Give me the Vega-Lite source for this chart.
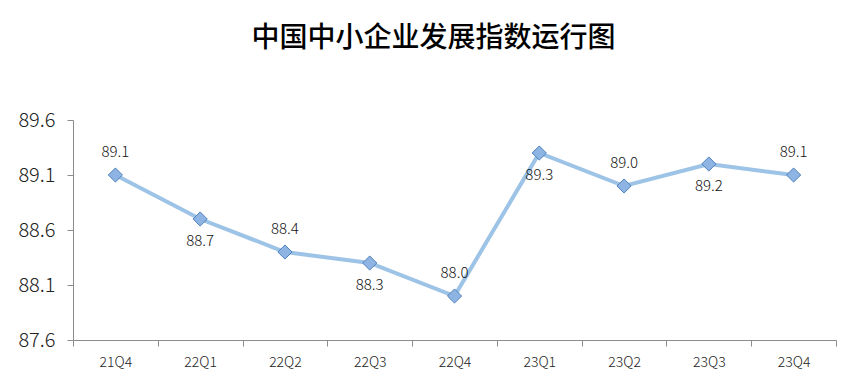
{
  "$schema": "https://vega.github.io/schema/vega-lite/v6.json",
  "width": 763,
  "height": 220,
  "autosize": {"type": "none"},
  "padding": {"left": 73, "top": 120, "right": 30, "bottom": 40},
  "background": "white",
  "title": {
    "text": "中国中小企业发展指数运行图",
    "font": "Noto Sans CJK SC",
    "fontSize": 28,
    "fontWeight": 500,
    "color": "#000000",
    "anchor": "middle",
    "frame": "group",
    "dx": -21,
    "offset": 57
  },
  "data": {
    "values": [
      {"q": "21Q4", "v": 89.1},
      {"q": "22Q1", "v": 88.7},
      {"q": "22Q2", "v": 88.4},
      {"q": "22Q3", "v": 88.3},
      {"q": "22Q4", "v": 88.0},
      {"q": "23Q1", "v": 89.3},
      {"q": "23Q2", "v": 89.0},
      {"q": "23Q3", "v": 89.2},
      {"q": "23Q4", "v": 89.1}
    ]
  },
  "config": {
    "view": {"stroke": null},
    "axis": {
      "grid": false,
      "domainColor": "#8c8c8c",
      "tickColor": "#8c8c8c",
      "labelFont": "Noto Sans CJK SC",
      "labelFontWeight": 300,
      "labelColor": "#222222",
      "title": null
    }
  },
  "encoding": {
    "x": {
      "field": "q",
      "type": "ordinal",
      "scale": {"paddingInner": 0, "paddingOuter": 0},
      "axis": {"labelAngle": 0, "labelFontSize": 14, "labelPadding": 9, "tickBand": "extent", "tickSize": 6, "domainWidth": 1}
    },
    "y": {
      "field": "v",
      "type": "quantitative",
      "scale": {"domain": [87.6, 89.6], "nice": false, "zero": false},
      "axis": {"values": [87.6, 88.1, 88.6, 89.1, 89.6], "format": ".1f", "labelFontSize": 20, "labelPadding": 12, "tickSize": 6}
    }
  },
  "layer": [
    {"mark": {"type": "line", "color": "#9DC3E6", "strokeWidth": 4}},
    {"mark": {"type": "point", "shape": "diamond", "filled": true, "size": 200, "fill": "#8DB4E2", "stroke": "#4F81BD", "strokeWidth": 1, "opacity": 1}},
    {
      "transform": [{"filter": {"field": "q", "oneOf": ["21Q4", "22Q2", "22Q4", "23Q2", "23Q4"]}}],
      "mark": {"type": "text", "dy": -23, "fontSize": 15, "font": "Noto Sans CJK SC", "fontWeight": 300, "color": "#111111"},
      "encoding": {"text": {"field": "v", "type": "quantitative", "format": ".1f"}}
    },
    {
      "transform": [{"filter": {"field": "q", "oneOf": ["22Q1", "22Q3", "23Q1", "23Q3"]}}],
      "mark": {"type": "text", "dy": 22, "fontSize": 15, "font": "Noto Sans CJK SC", "fontWeight": 300, "color": "#111111"},
      "encoding": {"text": {"field": "v", "type": "quantitative", "format": ".1f"}}
    }
  ]
}
